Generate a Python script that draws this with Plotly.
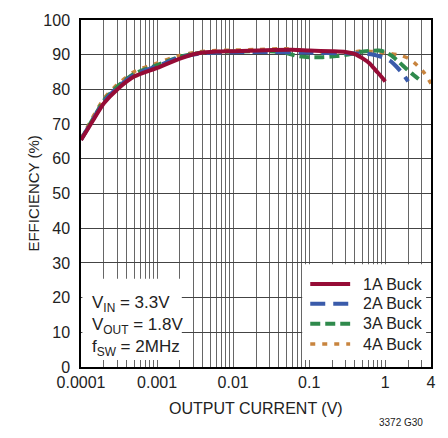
import plotly.graph_objects as go

# ---- data ----
red_x = [0.0001, 0.00015, 0.0002, 0.0003, 0.0005, 0.001, 0.002, 0.0035, 0.006, 0.01, 0.027, 0.06,
         0.1, 0.2, 0.3, 0.4, 0.5, 0.63, 0.75, 0.88, 1.0]
red_y = [65.4, 71.7, 76.0, 80.0, 83.7, 86.2, 88.9, 90.4, 90.9, 91.0, 91.3, 91.4,
         91.2, 91.0, 90.8, 90.2, 89.0, 87.4, 85.5, 83.8, 82.3]

blue_x = [0.0001, 0.00015, 0.0002, 0.0003, 0.0005, 0.001, 0.002, 0.0035, 0.006, 0.01, 0.03, 0.1,
          0.3, 0.5, 0.7, 1.0, 1.2, 1.4, 1.7, 2.0]
blue_y = [65.5, 72.0, 76.5, 80.5, 84.2, 86.7, 89.2, 90.3, 90.6, 90.7, 90.8, 90.6,
          90.4, 90.3, 90.0, 89.0, 88.0, 86.6, 84.5, 82.3]

green_x = [0.0001, 0.00015, 0.0002, 0.0003, 0.0005, 0.001, 0.002, 0.0035, 0.006, 0.01, 0.03, 0.05,
           0.07, 0.1, 0.15, 0.23, 0.35, 0.47, 0.65, 0.82, 1.0, 1.2, 1.5, 1.7, 2.2, 3.0]
green_y = [65.6, 72.2, 76.8, 80.8, 84.5, 87.0, 89.4, 90.5, 90.8, 90.9, 91.0, 90.5,
           89.6, 89.3, 89.3, 89.6, 90.2, 90.8, 91.1, 91.2, 90.8, 89.8, 88.0, 86.9, 84.7, 82.3]

orange_x = [0.0001, 0.00015, 0.0002, 0.0003, 0.0005, 0.001, 0.002, 0.0035, 0.006, 0.01, 0.02, 0.05,
            0.1, 0.18, 0.25, 0.35, 0.47, 0.7, 1.0, 1.2, 1.6, 2.0, 2.5, 3.2, 4.0]
orange_y = [65.8, 72.8, 77.4, 81.4, 85.1, 87.6, 89.8, 90.8, 91.2, 91.3, 91.5, 91.7,
            91.1, 90.6, 90.3, 90.6, 91.1, 90.9, 90.5, 90.3, 89.8, 89.0, 87.4, 85.0, 81.7]

series_names = ["1A Buck", "2A Buck", "3A Buck", "4A Buck"]
series_colors = ["#960C36", "#3A5BAA", "#2F8A4C", "#C8843E"]
series_dash = ["solid", "15px,8px", "10px,5px", "5px,7px"]

x_major = [0.0001, 0.001, 0.01, 0.1, 1, 4]
x_major_text = ["0.0001", "0.001", "0.01", "0.1", "1", "4"]
y_ticks = list(range(0, 101, 10))

FONT = "Liberation Sans Narrow, Arial Narrow, Liberation Sans, Arial, sans-serif"

# grid positions: every 1..9 multiple in each decade, up to 4
x_grid = []
for e in range(-4, 1):
    for k in range(1, 10):
        v = k * 10 ** e
        if v <= 4.0001:
            x_grid.append(v)
x_grid_text = []
for v in x_grid:
    lab = ""
    for m, t in zip(x_major, x_major_text):
        if abs(v - m) < 1e-9 * max(1, m):
            lab = t
    x_grid_text.append(lab)

fig = go.Figure()

data = [(red_x, red_y), (blue_x, blue_y), (green_x, green_y), (orange_x, orange_y)]
widths = [4, 4, 4, 3.5]
# draw 4A first, 1A last (on top)
for i in [3, 2, 1, 0]:
    xs, ys = data[i]
    fig.add_trace(go.Scatter(x=xs, y=ys, mode="lines", name=series_names[i], showlegend=False,
                             line=dict(color=series_colors[i], width=widths[i], dash=series_dash[i],
                                       shape="spline", smoothing=0.6)))

# white boxes behind legend and conditions text (hide gridlines)
fig.add_shape(type="rect", xref="paper", yref="paper", x0=0.004, x1=0.288, y0=0.02, y1=0.254,
              fillcolor="white", line=dict(width=0), layer="above")
fig.add_shape(type="rect", xref="paper", yref="paper", x0=0.632, x1=0.986, y0=0.02, y1=0.296,
              fillcolor="white", line=dict(width=0), layer="above")

# legend (manual, to match spacing)
leg_y = [0.239, 0.182, 0.125, 0.066]
for i in range(4):
    fig.add_shape(type="line", xref="paper", yref="paper", x0=0.655, x1=0.769,
                  y0=leg_y[i], y1=leg_y[i], layer="above",
                  line=dict(color=series_colors[i], width=widths[i], dash=series_dash[i]))
    fig.add_annotation(xref="paper", yref="paper", x=0.80, y=leg_y[i], xanchor="left",
                       yanchor="middle", showarrow=False, text=series_names[i],
                       font=dict(family=FONT, size=16, color="#222"))

fig.add_annotation(xref="paper", yref="paper", x=0.026, y=0.118, xanchor="left", yanchor="middle",
                   align="left", showarrow=False,
                   text="V<sub>IN</sub> = 3.3V<br>V<sub>OUT</sub> = 1.8V<br>f<sub>SW</sub> = 2MHz",
                   font=dict(family=FONT, size=17, color="#222"))

fig.add_annotation(xref="paper", yref="paper", x=0.5, y=-0.12, xanchor="center", yanchor="middle",
                   showarrow=False, text="OUTPUT CURRENT (V)",
                   font=dict(family=FONT, size=16, color="#222"))
fig.add_annotation(xref="paper", yref="paper", x=-0.137, y=0.5, xanchor="center", yanchor="middle",
                   showarrow=False, text="EFFICIENCY (%)", textangle=-90,
                   font=dict(family=FONT, size=15, color="#222"))
fig.add_annotation(xref="paper", yref="paper", x=0.913, y=-0.16, xanchor="center", yanchor="middle",
                   showarrow=False, text="3372 G30",
                   font=dict(family=FONT, size=10, color="#222"))
fig.add_annotation(xref="paper", yref="paper", x=0.42, y=1.053, xanchor="right", yanchor="bottom",
                   showarrow=False, text="<b>Efficiency</b>",
                   font=dict(family=FONT, size=16, color="#222"))

fig.update_layout(
    width=448, height=438,
    margin=dict(l=81, r=16, t=16, b=71),
    paper_bgcolor="white", plot_bgcolor="white",
    font=dict(family=FONT, size=16, color="#222"),
    showlegend=False,
)
fig.update_xaxes(type="log", range=[-4, 0.60206], tickmode="array", tickvals=x_grid,
                 ticktext=x_grid_text, showgrid=True, gridcolor="#666", gridwidth=1,
                 showline=True, linecolor="black", linewidth=1.5, mirror=True,
                 ticks="", zeroline=False, tickfont=dict(family=FONT, size=16, color="#222"))
fig.update_yaxes(range=[0, 100], tickmode="array", tickvals=y_ticks,
                 ticktext=[str(v) for v in y_ticks], showgrid=True, gridcolor="#444", gridwidth=1,
                 showline=True, linecolor="black", linewidth=1.5, mirror=True,
                 ticks="", zeroline=False, ticklabelstandoff=6,
                 tickfont=dict(family=FONT, size=16, color="#222"))

fig.write_html("out.html", config={"displayModeBar": False},
               post_script="document.body.style.margin='0';document.body.style.overflow='hidden';")
